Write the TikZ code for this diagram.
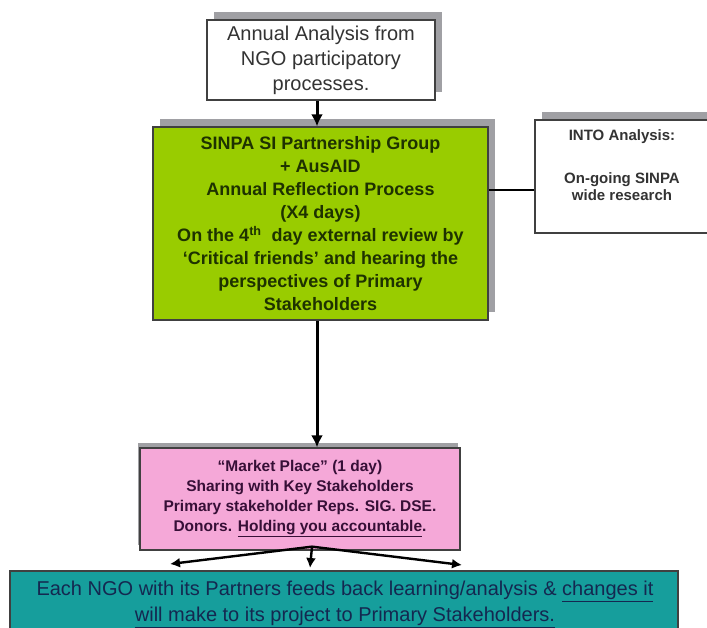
\documentclass[tikz,border=0pt]{standalone}
\usepackage{fontspec}
\setmainfont{Liberation Sans}
\usetikzlibrary{arrows.meta,shadows}
\definecolor{reflectgreen}{RGB}{153,204,0}
\definecolor{greentext}{RGB}{30,50,0}
\definecolor{marketpink}{RGB}{245,168,216}
\definecolor{pinktext}{RGB}{55,15,55}
\definecolor{feedteal}{RGB}{22,158,156}
\definecolor{navytext}{RGB}{20,40,80}
\definecolor{shadowgrey}{RGB}{160,160,164}
\tikzset{
  flowbox/.style={draw=black!75, line width=1.3pt, inner sep=0pt, align=center},
  boxshadow/.style={drop shadow={opacity=1, fill=shadowgrey, shadow xshift=7pt, shadow yshift=8pt}},
  flowarrow/.style={line width=3pt, -{Latex[length=12pt,width=12pt]}},
  forkarrow/.style={line width=2.4pt, -{Latex[length=10pt,width=10pt]}},
}

\begin{document}
\begin{tikzpicture}[x=1pt,y=-1pt]
  \useasboundingbox (0,0) rectangle (707,628);
  \clip (0,0) rectangle (707,628);

  % boxes
  \node[flowbox, boxshadow, fill=white, text=black!80, minimum width=228pt, minimum height=80pt,
        font=\fontsize{20}{25}\selectfont] (analysis) at (321,60)
        {Annual Analysis from\\NGO participatory\\processes.};

  \node[flowbox, boxshadow, fill=reflectgreen, text=greentext, minimum width=335pt, minimum height=193pt,
        font=\bfseries\fontsize{18}{23}\selectfont] (reflection) at (320.5,223.5)
        {SINPA SI Partnership Group\\+ AusAID\\Annual Reflection Process\\(X4 days)\\
         On the 4\textsuperscript{th}\ \ day external review by\\‘Critical friends’ and hearing the\\
         perspectives of Primary\\Stakeholders};

  \node[flowbox, boxshadow, fill=white, minimum width=175pt, minimum height=113pt] (into) at (622.5,176.5) {};
      \node[text=black!80, align=center, font=\bfseries\fontsize{15}{17}\selectfont] (into_t) at (622,165)
        {INTO Analysis:\\[26pt]On-going SINPA\\wide research};

  \node[flowbox, fill=marketpink, text=pinktext, minimum width=320pt, minimum height=102pt,
        drop shadow={opacity=1, fill=shadowgrey, shadow xshift=-2pt, shadow yshift=5pt},
        font=\bfseries\fontsize{15.5}{20}\selectfont] (market) at (300,499)
        {“Market Place” (1 day)\\Sharing with Key Stakeholders\\Primary stakeholder Reps. SIG. DSE.\\
         Donors. \underline{Holding you accountable}.};

  \node[flowbox, fill=feedteal, minimum width=668pt, minimum height=70pt] (feedback) at (344,606) {};
      \node[text=navytext, align=center, font=\fontsize{20}{26}\selectfont] (feedback_t) at (345,604)
        {Each NGO with its Partners feeds back learning/analysis \& \underline{changes it}\\
         \underline{will make to its project to Primary Stakeholders.}};

  % connectors
  \draw[flowarrow] ([xshift=-4pt]analysis.south) -- ([xshift=-4pt]analysis.south |- reflection.north);
  \draw[flowarrow] ([xshift=-3.5pt]reflection.south) -- ([xshift=-3.5pt]reflection.south |- market.north);

  \coordinate (tap) at ([yshift=-13.5pt]into.west);
  \draw[line width=1.8pt] (tap) -- (reflection.east |- tap);

  \coordinate (fork) at ([xshift=12pt,yshift=4pt]market.south);
  \coordinate (leftend) at (170,564);
  \coordinate (midend) at (310,568);
  \coordinate (rightend) at (462,565);
  \draw[forkarrow] (fork) -- (leftend);
  \draw[forkarrow] (fork) -- (midend);
  \draw[forkarrow] (fork) -- (rightend);
\end{tikzpicture}
\end{document}
